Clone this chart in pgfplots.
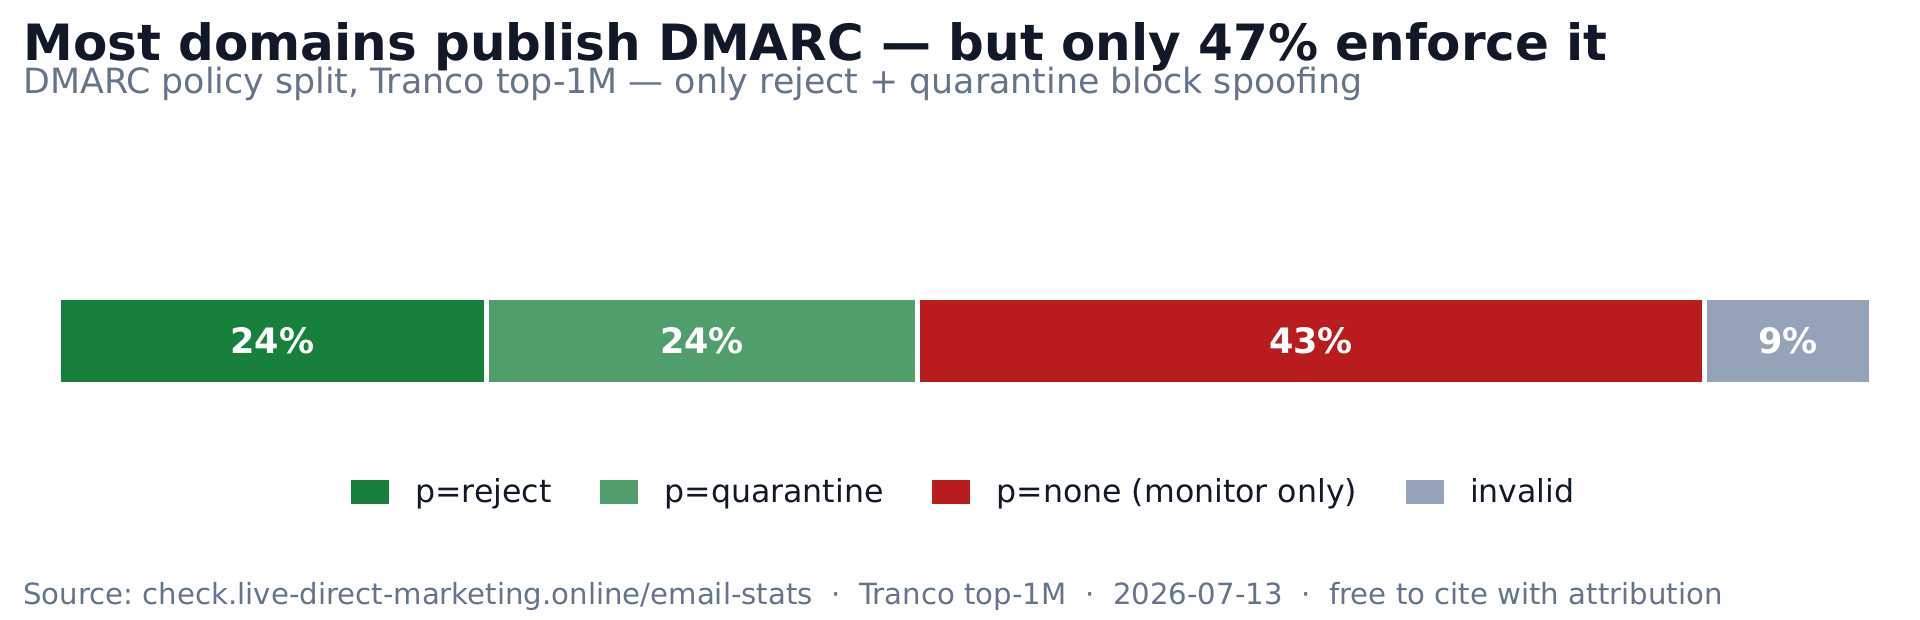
\documentclass[border=0pt]{standalone}
\usepackage{fontspec}
\setmainfont{DejaVu Sans}
\usepackage{pgfplots}
\pgfplotsset{compat=1.18}
\definecolor{creject}{HTML}{16803C}
\definecolor{cquar}{HTML}{4F9E6C}
\definecolor{cnone}{HTML}{B91C1C}
\definecolor{cinv}{HTML}{94A3B8}
\definecolor{ctitle}{HTML}{111827}
\definecolor{csub}{HTML}{64748B}
\frenchspacing
\begin{document}
\begin{tikzpicture}
\useasboundingbox (0,0) rectangle (960pt,310pt);
\node[anchor=base west, inner sep=0pt, text=ctitle, font=\fontsize{25}{30}\selectfont\bfseries] at (11.5pt,279.5pt) {Most domains publish DMARC — but only 47\% enforce it};
\node[anchor=base west, inner sep=0pt, text=csub, font=\fontsize{17.4}{22}\selectfont] at (11.5pt,263pt) {DMARC policy split, Tranco top-1M — only reject + quarantine block spoofing};
\node[anchor=base west, inner sep=0pt, text=csub, font=\fontsize{14.6}{18}\selectfont] at (11.5pt,7.5pt) {Source: check.live-direct-marketing.online/email-stats \ · \ Tranco top-1M \ · \ 2026-07-13 \ · \ free to cite with attribution};
\begin{axis}[
  at={(29.3pt,89.5pt)}, anchor=south west,
  scale only axis, width=906.3pt, height=100pt,
  xbar stacked, bar width=43.5pt,
  xmin=0, xmax=100, ymin=-1, ymax=1,
  hide axis,
  legend columns=4,
  legend style={at={(0.5,-0.255)}, anchor=center, draw=none, fill=none,
    font=\fontsize{15.8}{18}\selectfont, text=ctitle,
    /tikz/every odd column/.append style={column sep=11pt},
    /tikz/every even column/.append style={column sep=22.5pt},
    legend cell align=left},
  legend image code/.code={\fill[#1, draw=none] (0pt,-6.2pt) rectangle (19pt,6.2pt);},
  after end axis/.code={
    \node[text=white, font=\fontsize{17.5}{20}\selectfont\bfseries] at (axis cs:11.8,0) {24\%};
    \node[text=white, font=\fontsize{17.5}{20}\selectfont\bfseries] at (axis cs:35.5,0) {24\%};
    \node[text=white, font=\fontsize{17.5}{20}\selectfont\bfseries] at (axis cs:69.1,0) {43\%};
    \node[text=white, font=\fontsize{17.5}{20}\selectfont\bfseries] at (axis cs:95.4,0) {9\%};
  },
]
\addplot[fill=creject, draw=white, line width=2.5pt] coordinates {(23.6,0)};
\addlegendentry{p=reject}
\addplot[fill=cquar, draw=white, line width=2.5pt] coordinates {(23.8,0)};
\addlegendentry{p=quarantine}
\addplot[fill=cnone, draw=white, line width=2.5pt] coordinates {(43.4,0)};
\addlegendentry{p=none (monitor only)}
\addplot[fill=cinv, draw=white, line width=2.5pt] coordinates {(9.2,0)};
\addlegendentry{invalid}
\end{axis}
\end{tikzpicture}
\end{document}
